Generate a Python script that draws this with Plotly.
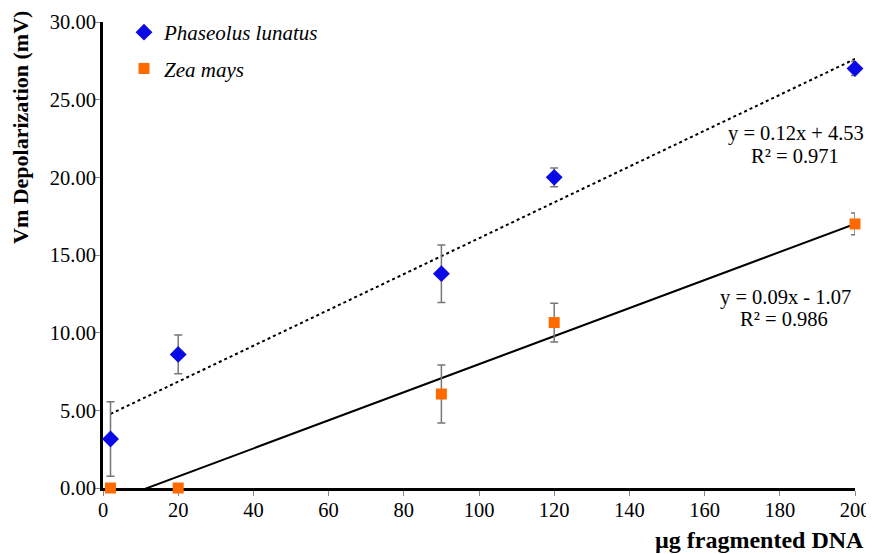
import numpy as np
import plotly.graph_objects as go

x_dna = [2, 20, 90, 120, 200]
phaseolus = [3.15, 8.6, 13.8, 20.0, 27.0]
phaseolus_err = [2.4, 1.25, 1.85, 0.6, 0.45]
zea = [0.0, 0.0, 6.05, 10.65, 17.0]
zea_err = [0.0, 0.0, 1.87, 1.25, 0.7]
x_ticks = [0, 20, 40, 60, 80, 100, 120, 140, 160, 180, 200]
y_ticks = [0, 5, 10, 15, 20, 25, 30]

FONT = "Liberation Serif"
# page body has an 8px margin; plot area target (screen px): x 103..855, y 22..488
OFF = 8
PL, PR, PT, PB = 103, 855, 22, 488


def px(x):
    return (x - PL) / (PR - PL)


def py(y):
    return (PB - y) / (PB - PT)


fig = go.Figure()

# trend lines (least squares fit from the data)
xl = np.array([min(x_dna), max(x_dna)])
p1 = np.polyfit(x_dna, phaseolus, 1)
p2 = np.polyfit(x_dna, zea, 1)
fig.add_trace(go.Scatter(x=xl, y=np.polyval(p1, xl), mode="lines",
                         line=dict(color="black", width=2, dash="dot"),
                         showlegend=False, hoverinfo="skip"))
fig.add_trace(go.Scatter(x=xl, y=np.polyval(p2, xl), mode="lines",
                         line=dict(color="black", width=2),
                         showlegend=False, hoverinfo="skip"))

fig.add_trace(go.Scatter(
    x=x_dna, y=phaseolus, mode="markers", name="Phaseolus lunatus",
    marker=dict(symbol="diamond", size=13, color="#0a0ae6"),
    error_y=dict(type="data", array=phaseolus_err, color="#777777", thickness=1.5, width=4),
    cliponaxis=False, legendgroup="a"))
fig.add_trace(go.Scatter(
    x=x_dna, y=zea, mode="markers", name="Zea mays",
    marker=dict(symbol="square", size=11, color="#ff6a00"),
    error_y=dict(type="data", array=zea_err, color="#777777", thickness=1.5, width=4),
    cliponaxis=False, legendgroup="b"))

W, H = 874 - OFF, 554 - OFF
fig.update_layout(
    width=W, height=H,
    margin=dict(l=PL - OFF, r=W - (PR - OFF), t=PT - OFF, b=H - (PB - OFF), autoexpand=False),
    paper_bgcolor="white", plot_bgcolor="white",
    font=dict(family=FONT, size=21, color="black"),
    showlegend=True,
    legend=dict(x=px(124), y=py(12), xanchor="left", yanchor="top",
                font=dict(family=FONT, size=21, style="italic", color="black"),
                bgcolor="rgba(0,0,0,0)", tracegroupgap=6,
                traceorder="grouped"),
    xaxis=dict(range=[0, 200], tickvals=x_ticks, showgrid=False, zeroline=False,
               showline=True, linecolor="black", linewidth=3,
               ticks="outside", ticklen=5, tickcolor="#888888", ticklabelstandoff=-4,
               layer="below traces", tickfont=dict(family=FONT, size=20.5, color="black")),
    yaxis=dict(range=[0, 30], tickvals=y_ticks, tickformat=".2f", showgrid=False,
               zeroline=False, showline=True, linecolor="black", linewidth=3,
               ticks="outside", ticklen=5, tickcolor="#888888", ticklabelstandoff=-5,
               layer="below traces", tickfont=dict(family=FONT, size=20.5, color="black")),
)

fig.add_annotation(text="<b>Vm Depolarization (mV)</b>", xref="paper", yref="paper",
                   x=px(20), y=py(128), xanchor="center", yanchor="middle", textangle=-90,
                   showarrow=False, font=dict(family=FONT, size=22, color="black"))
fig.add_annotation(text="<b>µg fragmented DNA</b>", xref="paper", yref="paper",
                   x=px(866), y=py(540), xanchor="right", yanchor="middle",
                   showarrow=False, font=dict(family=FONT, size=24, color="black"))

eq_lines = [("y = 0.12x + 4.53", 796, 134), ("R² = 0.971", 795, 156),
            ("y = 0.09x - 1.07", 785, 297), ("R² = 0.986", 784, 319)]
for txt, cx, cy in eq_lines:
    fig.add_annotation(text=txt, xref="paper", yref="paper", x=px(cx), y=py(cy),
                       xanchor="center", yanchor="middle", showarrow=False,
                       font=dict(family=FONT, size=20.5, color="black"))

fig.write_html("out.html")
